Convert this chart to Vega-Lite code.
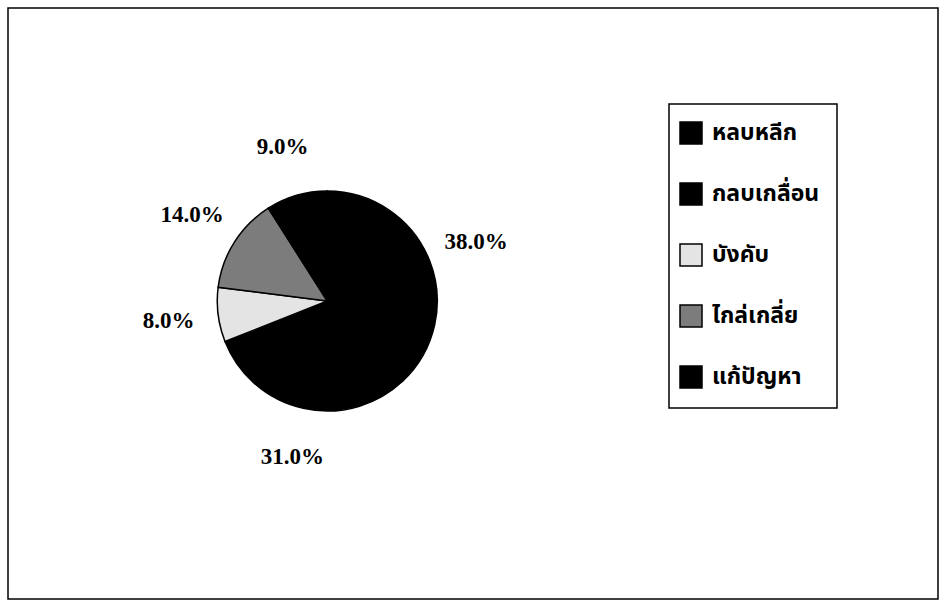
{
  "$schema": "https://vega.github.io/schema/vega-lite/v6.json",
  "width": 939,
  "height": 602,
  "autosize": {"type": "fit", "contains": "padding"},
  "padding": {"left": 7, "top": 7, "right": 0, "bottom": 2},
  "background": "white",
  "config": {
    "view": {"stroke": null},
    "legend": {
      "orient": "none",
      "legendX": 661,
      "legendY": 96,
      "strokeColor": "black",
      "strokeWidth": 1.5,
      "padding": 17,
      "symbolOffset": -7,
      "symbolType": "square",
      "symbolSize": 484,
      "symbolStrokeColor": "black",
      "symbolStrokeWidth": 1.5,
      "symbolOpacity": 1,
      "labelFont": "Noto Sans Thai, Noto Sans, sans-serif",
      "labelFontSize": 23,
      "labelFontWeight": "bold",
      "labelColor": "black",
      "labelOffset": 9,
      "rowPadding": 33,
      "labelLimit": 300
    }
  },
  "data": {
    "values": [
      {"rank": 1, "style": "หลบหลีก", "share": 0.38},
      {"rank": 2, "style": "กลบเกลื่อน", "share": 0.31},
      {"rank": 3, "style": "บังคับ", "share": 0.08},
      {"rank": 4, "style": "ไกล่เกลี่ย", "share": 0.14},
      {"rank": 5, "style": "แก้ปัญหา", "share": 0.09}
    ]
  },
  "layer": [
    {
      "data": {"values": [{"frame": "border"}]},
      "mark": {"type": "rect", "fill": "transparent", "stroke": "black", "strokeWidth": 1.5},
      "encoding": {}
    },
    {
      "mark": {"type": "arc", "outerRadius": 110, "stroke": "black", "strokeWidth": 1.5, "x": {"expr": "width * 0.3433"}, "y": {"expr": "height * 0.4958"}},
      "encoding": {
        "theta": {"field": "share", "type": "quantitative", "stack": true},
        "order": {"field": "rank", "type": "quantitative"},
        "color": {
          "field": "style",
          "type": "nominal",
          "title": null,
          "scale": {
            "domain": ["หลบหลีก", "กลบเกลื่อน", "บังคับ", "ไกล่เกลี่ย", "แก้ปัญหา"],
            "range": ["#000000", "#000000", "#e4e4e4", "#7c7c7c", "#000000"]
          }
        }
      }
    },
    {
      "mark": {"type": "text", "radius": 160, "font": "Liberation Serif", "fontSize": 23, "fontWeight": "bold", "color": "black", "x": {"expr": "width * 0.3433"}, "y": {"expr": "height * 0.4958"}},
      "encoding": {
        "theta": {"field": "share", "type": "quantitative", "stack": true},
        "order": {"field": "rank", "type": "quantitative"},
        "text": {"field": "share", "type": "quantitative", "format": ".1%"}
      }
    }
  ]
}
